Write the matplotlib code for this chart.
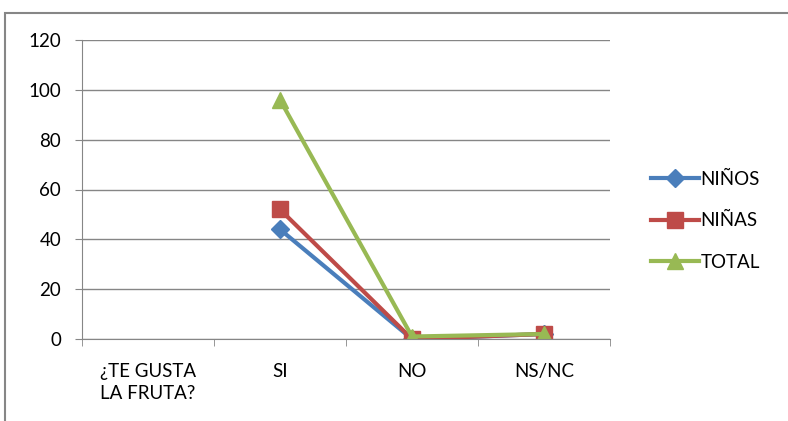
import matplotlib.pyplot as plt
import numpy as np
from matplotlib.patches import Rectangle

categorias = ["¿TE GUSTA\nLA FRUTA?", "SI", "NO", "NS/NC"]
ninos = [np.nan, 44, 0, 2]
ninas = [np.nan, 52, 0, 2]
total = [np.nan, 96, 1, 2]

plt.rcParams['font.family'] = ['Lato', 'DejaVu Sans']

fig = plt.figure(figsize=(7.88, 4.21), dpi=100)
# marco exterior del grafico
fig.patches.append(Rectangle((5/788, -0.1), 1.1, 1 - 13/421 + 0.1, transform=fig.transFigure,
                             fill=False, edgecolor="#868686", linewidth=1.5))

ax = fig.add_axes([82/788, 1 - 339/421, (610 - 82)/788, (339 - 40)/421])
x = np.arange(len(categorias))

ax.plot(x, ninos, color="#4A7EBB", lw=3, marker="D", ms=9, label="NIÑOS")
ax.plot(x, ninas, color="#BE4B48", lw=3, marker="s", ms=11, label="NIÑAS")
ax.plot(x, total, color="#98B954", lw=3, marker="^", ms=12, label="TOTAL")

ax.set_xlim(-0.5, len(categorias) - 0.5)
ax.set_ylim(0, 120)
ax.set_yticks(np.arange(0, 121, 20))
ax.set_xticks(x)
ax.set_xticklabels(categorias, ha="center", ma="left", fontsize=13.5, linespacing=1.35)
ax.set_xticks(np.arange(-0.5, len(categorias)), minor=True)
ax.tick_params(axis="x", which="major", length=0, pad=17)
ax.tick_params(axis="x", which="minor", length=5, color="#868686")
ax.tick_params(axis="y", length=5, color="#868686", labelsize=13.5, pad=10)

ax.grid(axis="y", color="#868686", lw=1)
ax.set_axisbelow(True)
for s in ["top", "right"]:
    ax.spines[s].set_visible(False)
ax.spines["left"].set_color("#868686")
ax.spines["bottom"].set_color("#868686")

ax.legend(loc="center left", bbox_to_anchor=(1.045, 0.395), frameon=False, fontsize=13.5,
          handlelength=2.6, labelspacing=1.3, handletextpad=0.05)

fig.savefig("out.png", dpi=100)
